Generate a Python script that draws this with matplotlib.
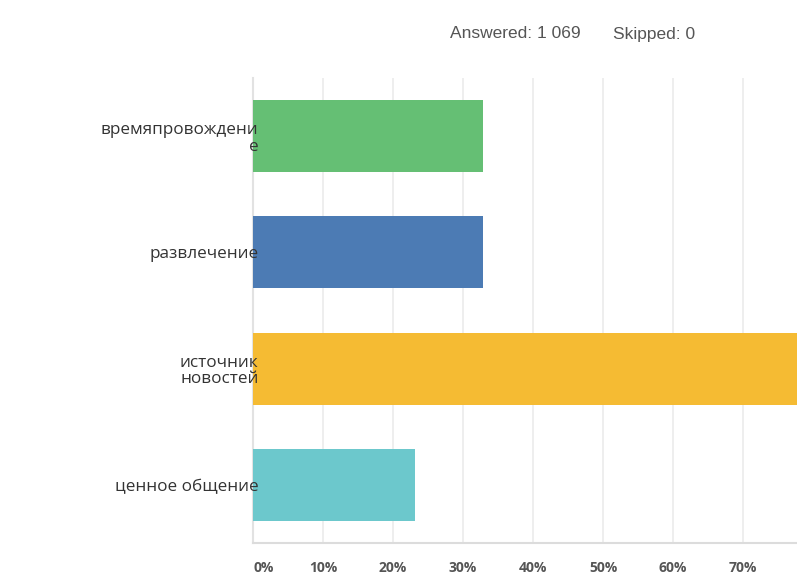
import matplotlib
matplotlib.use("Agg")
import matplotlib.pyplot as plt

categories = ["времяпровождени\nе", "развлечение", "источник\nновостей", "ценное общение"]
values = [32.9, 32.9, 81.0, 23.1]
colors = ["#65bf74", "#4c7bb4", "#f5bb33", "#6cc8cc"]
xticks = [0, 10, 20, 30, 40, 50, 60, 70, 80, 90, 100]
xticklabels = [f"{t}%" for t in xticks]

plt.rcParams['font.family'] = ['Open Sans', 'DejaVu Sans']

fig = plt.figure(figsize=(7.97, 5.85), dpi=100)
ax = fig.add_axes([253/797, 42/585, 700/797, 465/585])

ypos = list(range(len(categories)))
ax.barh(ypos, values, height=0.62, color=colors, zorder=3)
ax.set_ylim(len(categories) - 0.5, -0.5)
ax.set_xlim(0, 100)
ax.set_yticks(ypos)
ax.set_yticklabels(categories, fontsize=12.3, color="#333333", linespacing=1.05)
ax.set_xticks(xticks)
ax.set_xticklabels(xticklabels, fontsize=10, color="#555555", fontweight="bold")
ax.tick_params(axis='y', length=0, pad=-4)
ax.tick_params(axis='x', length=0, pad=13)
ax.get_xticklabels()[0].set_horizontalalignment('left')
ax.grid(axis='x', color="#ebebeb", linewidth=1.2)
ax.set_axisbelow(True)
ax.yaxis.set_zorder(6)
for s in ["top", "right"]:
    ax.spines[s].set_visible(False)
ax.spines["left"].set_color("#e2e2e2")
ax.spines["left"].set_linewidth(1.5)
ax.spines["left"].set_zorder(1)
ax.spines["bottom"].set_color("#dcdcdc")
ax.spines["bottom"].set_linewidth(1.5)

fig.text(450/797, 1 - 34/585, "Answered: 1 069", fontsize=12.5,
         color="#555555", va="center", ha="left", family=["Liberation Sans", "DejaVu Sans"])
fig.text(613/797, 1 - 34/585, "Skipped: 0", fontsize=12.5,
         color="#555555", va="center", ha="left", family=["Liberation Sans", "DejaVu Sans"])

fig.savefig("out.png", dpi=100)
